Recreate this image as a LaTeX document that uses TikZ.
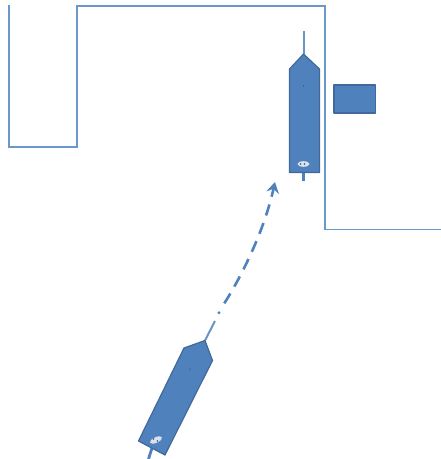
\documentclass[tikz,border=0pt]{standalone}
\usetikzlibrary{arrows.meta}
\definecolor{shipblue}{HTML}{4F81BD}
\definecolor{shipedge}{HTML}{41699C}
\definecolor{wallblue}{HTML}{6C97CB}
\begin{document}
\begin{tikzpicture}[x=1pt,y=-1pt,>=Stealth,
wall line/.style={draw=wallblue,line width=1.5pt,line join=miter},
ship hull/.style={draw=shipedge,fill=shipblue,line width=1.2pt,line join=round},
ship line/.style={draw=shipblue!85,line width=2pt},
stub line/.style={draw=shipblue,line width=2.8pt},
track line/.style={draw=shipblue,line width=2.6pt},
lamp/.style={fill=white!80!shipedge,draw=none},
centre mark/.style={fill=shipedge!70!black,draw=none}]
\useasboundingbox (0,0) rectangle (441,459);
% quay
\draw[wall line] (8.8,5) -- (8.8,147) -- (77,147) -- (77,6) -- (325,6) -- (325,229.5) -- (441,229.5);
\draw[ship hull] (334,85) rectangle (375.5,113);
% berthed ship
\coordinate (upper bow) at (303.5,54);
\coordinate (upper mast) at (303.5,31);
\coordinate (upper stern) at (303.5,172);
\coordinate (upper tail) at (303.5,181);
\draw[ship line] (upper mast) -- (upper bow);
\draw[stub line] (upper stern) -- (upper tail);
\draw[ship hull] (upper bow) -- (319.5,69) -- (319.5,172.5) -- (289.5,172.5) -- (289.5,69) -- cycle;
\fill[centre mark] (303.5,86) circle (0.7);
\fill[lamp] (303.5,164) ellipse (6 and 2.8);
\fill[shipedge!80!black] (300.5,164) circle (0.9) (304.5,164) circle (0.9);
% approaching ship
\coordinate (lower bow) at (205,340.5);
\coordinate (lower mast) at (215,321);
\coordinate (lower stern) at (152,448);
\coordinate (lower tail) at (148.5,459);
\draw[stub line] (lower stern) -- (lower tail);
\draw[ship line] (lower mast) -- (lower bow);
\draw[ship hull] (lower bow) -- (212.5,360.5) -- (165,455) -- (138.5,441) -- (184,348) -- cycle;
\fill[centre mark] (190,369) circle (0.7);
\fill[lamp,rotate around={25:(156,440)}] (156,440) ellipse (6.5 and 2.8);
\fill[shipedge!80!black] (153.5,439) circle (0.9) (157.5,441) circle (0.9);
% track
\coordinate (track dot) at (219,312.7);
\coordinate (track start) at (224.3,303.3);
\coordinate (track end) at (275,182);
\fill[shipblue] (track dot) circle (1.7);
\draw[track line,dash pattern=on 11.5pt off 8pt,-{Stealth[length=11pt,width=13pt,inset=4pt]}] (track start) .. controls (240,279) and (264,232) .. (track end);
\end{tikzpicture}
\end{document}
